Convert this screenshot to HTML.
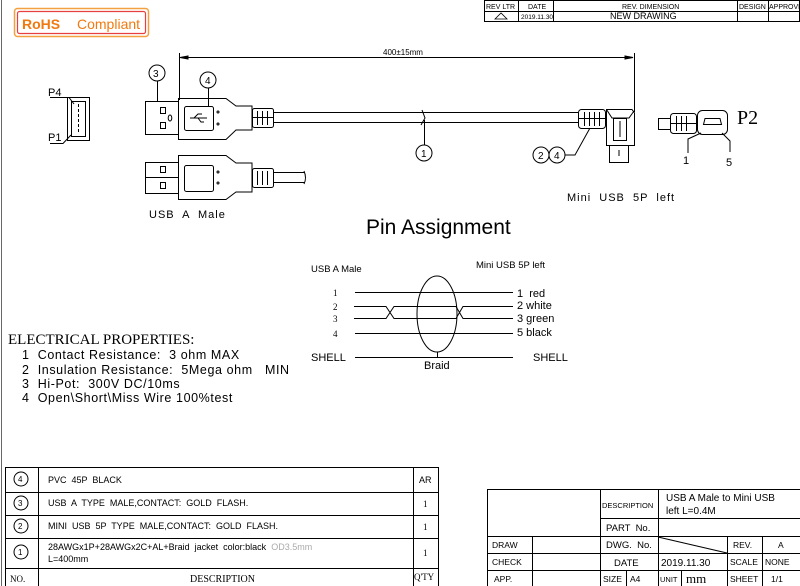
<!DOCTYPE html>
<html><head><meta charset="utf-8"><style>
html,body{margin:0;padding:0;background:#fff}
svg{display:block}
text{font-family:"Liberation Sans",sans-serif;fill:#000;white-space:pre}
.s{font-family:"Liberation Serif",serif}
</style></head><body>
<svg width="800" height="586" viewBox="0 0 800 586" xmlns="http://www.w3.org/2000/svg" xml:space="preserve">
<g fill="none" stroke="#000" stroke-width="1">
<line x1="1.5" y1="0" x2="1.5" y2="586" stroke="#666"/>
<rect x="484.5" y="0.5" width="315" height="21"/>
<line x1="484" y1="11.5" x2="800" y2="11.5"/>
<line x1="518.5" y1="0" x2="518.5" y2="22"/>
<line x1="553.5" y1="0" x2="553.5" y2="22"/>
<line x1="737.5" y1="0" x2="737.5" y2="22"/>
<line x1="768.5" y1="0" x2="768.5" y2="22"/>
<polygon points="495,19 501,13 507,19" stroke-width="0.8"/>
</g>
<text x="486" y="9" font-size="7">REV LTR</text>
<text x="528" y="9" font-size="7">DATE</text>
<text x="622" y="9" font-size="7">REV. DIMENSION</text>
<text x="739" y="9" font-size="7">DESIGN</text>
<text x="769" y="9" font-size="7">APPROVE</text>
<text x="521" y="19" font-size="6.5">2019.11.30</text>
<text x="610" y="19" font-size="9">NEW DRAWING</text>

<rect x="14.5" y="8.5" width="134" height="28" rx="3" fill="none" stroke="#f5a040" stroke-width="1.5"/>
<rect x="17.5" y="11.5" width="128" height="22" rx="2" fill="none" stroke="#e84040" stroke-width="1.2"/>
<text x="22" y="29" font-size="14" font-weight="bold" style="fill:#f07a10">RoHS</text>
<text x="77" y="29" font-size="14" style="fill:#f07a10">Compliant</text>

<g fill="none" stroke="#000" stroke-width="1">
<line x1="179.5" y1="53" x2="179.5" y2="100"/>
<line x1="634.5" y1="53" x2="634.5" y2="112"/>
<line x1="180" y1="57.5" x2="633" y2="57.5"/>
<polygon points="180,57.5 188,56 188,59" fill="#000"/>
<polygon points="633,57.5 625,56 625,59" fill="#000"/>
<rect x="67.5" y="97.5" width="22" height="43"/>
<rect x="71.5" y="101.5" width="14" height="35"/>
<line x1="78.5" y1="104" x2="78.5" y2="134" stroke-dasharray="3,2"/>
<polyline points="50,97.5 69,97.5 74,104"/>
<polyline points="50,143.5 63,143.5 71,135"/>
<rect x="145.5" y="101.5" width="33" height="33"/>
<rect x="160.5" y="107.5" width="5" height="6"/><rect x="160.5" y="122.5" width="5" height="6"/>
<ellipse cx="170" cy="118" rx="1.8" ry="3"/>
<path d="M178.5,98.5 H226 L236,106 H252 V130 H236 L226,139.5 H178.5 Z"/>
<rect x="184.5" y="106.5" width="29" height="24" rx="2"/>
<circle cx="218" cy="112" r="1"/><circle cx="218" cy="124" r="1"/>
<path d="M190,118 H207 M194,118 L198,114 H202 M198,118 L201,122 H204"/>
<rect x="252.5" y="108.5" width="21" height="19" rx="2"/>
<line x1="257.5" y1="111" x2="257.5" y2="125"/><line x1="262.5" y1="111" x2="262.5" y2="125"/><line x1="267.5" y1="111" x2="267.5" y2="125"/>
<line x1="252" y1="117.5" x2="274" y2="117.5"/>
<line x1="274" y1="112.5" x2="578" y2="112.5"/>
<line x1="274" y1="122.5" x2="578" y2="122.5"/>
<path d="M422,110 L425,118 L421,125"/>
<line x1="424.5" y1="120" x2="424.5" y2="145"/>
<circle cx="157" cy="73" r="8"/><line x1="157.5" y1="81" x2="157.5" y2="101"/>
<circle cx="208" cy="80" r="8"/><line x1="208.5" y1="88" x2="208.5" y2="106"/>
<rect x="145.5" y="162.5" width="33" height="31"/>
<line x1="145" y1="177.5" x2="178" y2="177.5"/>
<rect x="160.5" y="166.5" width="5" height="6"/><rect x="160.5" y="182.5" width="5" height="6"/>
<path d="M178.5,155.5 H226 L236,163 H252 V192 H236 L226,199.5 H178.5 Z"/>
<rect x="184.5" y="165.5" width="29" height="26" rx="2"/>
<circle cx="218" cy="172" r="1"/><circle cx="218" cy="183" r="1"/>
<rect x="252.5" y="168.5" width="21" height="19" rx="2"/>
<line x1="257.5" y1="171" x2="257.5" y2="185"/><line x1="262.5" y1="171" x2="262.5" y2="185"/><line x1="267.5" y1="171" x2="267.5" y2="185"/>
<line x1="274" y1="172.5" x2="305" y2="172.5"/><line x1="274" y1="182.5" x2="305" y2="182.5"/>
<path d="M304,171 Q307,178 304,184"/>
<rect x="578.5" y="109.5" width="27" height="19" rx="3"/>
<line x1="584.5" y1="112" x2="584.5" y2="126"/><line x1="589.5" y1="112" x2="589.5" y2="126"/><line x1="594.5" y1="112" x2="594.5" y2="126"/><line x1="599.5" y1="112" x2="599.5" y2="126"/>
<line x1="578" y1="118.5" x2="605" y2="118.5"/>
<path d="M606.5,109.5 H632 L634.5,113 V145.5 H606.5 Z"/>
<path d="M606.5,109.5 L612,118 H629 L634,111"/>
<rect x="613.5" y="118.5" width="13" height="22"/>
<line x1="620" y1="121" x2="620" y2="137"/>
<rect x="609.5" y="145.5" width="19" height="17"/>
<line x1="619" y1="150" x2="619" y2="156"/>
<polyline points="590,128 575,155 565,155"/>
<circle cx="424" cy="153" r="8"/>
<circle cx="541" cy="155" r="8"/><circle cx="557" cy="155" r="8"/>
<rect x="658.5" y="118.5" width="12" height="11"/>
<rect x="670.5" y="113.5" width="26" height="20" rx="3"/>
<line x1="676.5" y1="116" x2="676.5" y2="131"/><line x1="681.5" y1="116" x2="681.5" y2="131"/><line x1="686.5" y1="116" x2="686.5" y2="131"/>
<line x1="670" y1="123.5" x2="697" y2="123.5"/>
<rect x="697.5" y="110.5" width="30" height="24" rx="5"/>
<path d="M703.5,124.5 L705,118.5 H720 L721.5,124.5 Z"/>
<polyline points="701,133 688,139 688,153"/>
<polyline points="722,133 730,141 730,152"/>
<line x1="355" y1="292.5" x2="513" y2="292.5"/>
<path d="M354,306.5 H386 L394,318.5 H456 L463,306.5 H513"/>
<path d="M354,318.5 H386 L394,306.5 H456 L463,318.5 H513"/>
<line x1="355" y1="333.5" x2="513" y2="333.5"/>
<line x1="355" y1="357.5" x2="513" y2="357.5"/>
<ellipse cx="437" cy="314" rx="20" ry="38"/>
<line x1="437.5" y1="352" x2="437.5" y2="357"/>
<rect x="5.5" y="467.5" width="433" height="120"/>
<line x1="5" y1="492.5" x2="438" y2="492.5"/>
<line x1="5" y1="515.5" x2="438" y2="515.5"/>
<line x1="5" y1="538.5" x2="438" y2="538.5"/>
<line x1="5" y1="568.5" x2="438" y2="568.5"/>
<line x1="38.5" y1="467" x2="38.5" y2="586"/>
<line x1="413.5" y1="467" x2="413.5" y2="586"/>
<circle cx="21" cy="479" r="7"/><circle cx="21" cy="503" r="7"/><circle cx="21" cy="526" r="7"/><circle cx="21" cy="552" r="7"/>
<rect x="487.5" y="489.5" width="313" height="98"/>
<line x1="600" y1="518.5" x2="800" y2="518.5"/>
<line x1="487" y1="536.5" x2="800" y2="536.5"/>
<line x1="487" y1="553.5" x2="800" y2="553.5"/>
<line x1="487" y1="570.5" x2="800" y2="570.5"/>
<line x1="532.5" y1="536" x2="532.5" y2="586"/>
<line x1="600.5" y1="489" x2="600.5" y2="586"/>
<line x1="658.5" y1="489" x2="658.5" y2="586"/>
<line x1="626.5" y1="570" x2="626.5" y2="586"/>
<line x1="681.5" y1="570" x2="681.5" y2="586"/>
<line x1="727.5" y1="536" x2="727.5" y2="586"/>
<line x1="762.5" y1="536" x2="762.5" y2="586"/>
<line x1="658" y1="537" x2="727" y2="553"/>
</g>

<text x="383" y="55" font-size="8">400±15mm</text>
<text x="153" y="77" font-size="10">3</text>
<text x="205" y="84" font-size="10">4</text>
<text x="421" y="157" font-size="10">1</text>
<text x="538" y="159" font-size="10">2</text>
<text x="554" y="159" font-size="10">4</text>
<text x="48" y="96" font-size="11">P4</text>
<text x="48" y="141" font-size="11">P1</text>
<text x="737" y="124" font-size="20" class="s">P2</text>
<text x="683" y="164" font-size="11">1</text>
<text x="726" y="166" font-size="11">5</text>
<text x="149" y="218" font-size="11" letter-spacing="1">USB  A  Male</text>
<text x="567" y="201" font-size="11" letter-spacing="1">Mini  USB  5P  left</text>
<text x="366" y="234" font-size="21" style="font-weight:300">Pin Assignment</text>

<text x="311" y="272" font-size="9.5">USB A Male</text>
<text x="476" y="268" font-size="9.5">Mini USB 5P left</text>
<text x="333" y="296" font-size="9" class="s">1</text>
<text x="333" y="310" font-size="9" class="s">2</text>
<text x="333" y="322" font-size="9" class="s">3</text>
<text x="333" y="337" font-size="9" class="s">4</text>
<text x="517" y="297" font-size="11">1  red</text>
<text x="517" y="309" font-size="11">2 white</text>
<text x="517" y="322" font-size="11">3 green</text>
<text x="517" y="336" font-size="11">5 black</text>
<text x="311" y="361" font-size="11">SHELL</text>
<text x="533" y="361" font-size="11">SHELL</text>
<text x="424" y="369" font-size="11">Braid</text>

<text x="8" y="344" font-size="15" class="s">ELECTRICAL PROPERTIES:</text>
<text x="22" y="359" font-size="12.5" letter-spacing="0.6">1  Contact Resistance:  3 ohm MAX</text>
<text x="22" y="374" font-size="12.5" letter-spacing="0.6">2  Insulation Resistance:  5Mega ohm   MIN</text>
<text x="22" y="388" font-size="12.5" letter-spacing="0.6">3  Hi-Pot:  300V DC/10ms</text>
<text x="22" y="402" font-size="12.5" letter-spacing="0.6">4  Open\Short\Miss Wire 100%test</text>

<g font-size="8">
<text x="18" y="482">4</text><text x="18" y="506">3</text><text x="18" y="529">2</text><text x="18" y="555">1</text>
<text x="48" y="483" font-size="9">PVC  45P  BLACK</text>
<text x="48" y="506" font-size="9">USB  A  TYPE  MALE,CONTACT:  GOLD  FLASH.</text>
<text x="48" y="529" font-size="9">MINI  USB  5P  TYPE  MALE,CONTACT:  GOLD  FLASH.</text>
<text x="48" y="550" font-size="9">28AWGx1P+28AWGx2C+AL+Braid  jacket  color:black  <tspan style="fill:#aaa">OD3.5mm</tspan></text>
<text x="48" y="562" font-size="9">L=400mm</text>
<text x="419" y="483" font-size="9">AR</text>
<text x="423" y="507" font-size="9" class="s">1</text>
<text x="423" y="530" font-size="9" class="s">1</text>
<text x="423" y="556" font-size="9" class="s">1</text>
<text x="10" y="582" font-size="9" class="s">NO.</text>
<text x="190" y="582" font-size="10" class="s">DESCRIPTION</text>
<text x="414" y="580" font-size="9" class="s">Q'TY</text>
</g>
<g font-size="8.5">
<text x="602" y="508" font-size="7.5">DESCRIPTION</text>
<text x="666" y="501" font-size="10">USB A Male to Mini USB</text>
<text x="666" y="514" font-size="10">left L=0.4M</text>
<text x="606" y="531" font-size="9.5">PART  No.</text>
<text x="492" y="548">DRAW</text>
<text x="606" y="548" font-size="9.5">DWG.  No.</text>
<text x="733" y="548">REV.</text>
<text x="778" y="548">A</text>
<text x="492" y="565">CHECK</text>
<text x="614" y="566" font-size="9.5">DATE</text>
<text x="661" y="566" font-size="10">2019.11.30</text>
<text x="730" y="565">SCALE</text>
<text x="765" y="565">NONE</text>
<text x="494" y="582">APP.</text>
<text x="603" y="582">SIZE</text>
<text x="630" y="582">A4</text>
<text x="660" y="582" font-size="7.5">UNIT</text>
<text x="686" y="583" font-size="13" class="s">mm</text>
<text x="730" y="582">SHEET</text>
<text x="771" y="582">1/1</text>
</g>
</svg>
</body></html>
